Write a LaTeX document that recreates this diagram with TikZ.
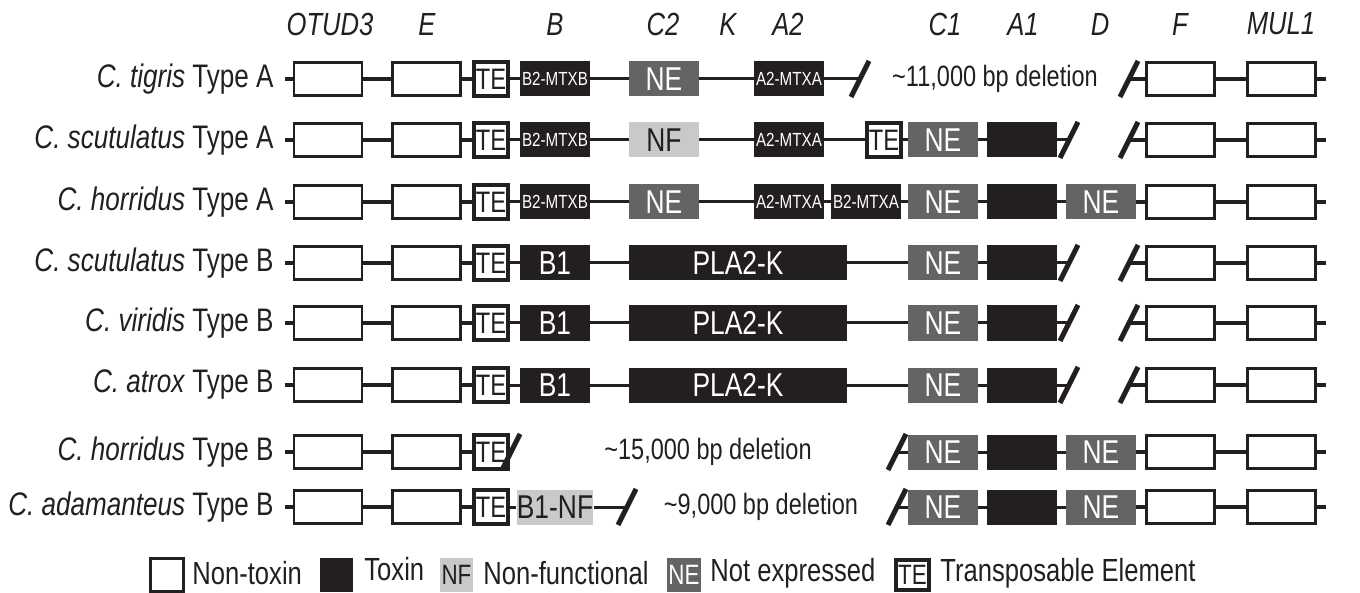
\documentclass[tikz,border=0pt]{standalone}
\usepackage{fontspec}
\setmainfont[FakeStretch=0.8]{Liberation Sans}
\definecolor{ink}{HTML}{231F20}
\definecolor{negray}{HTML}{636466}
\definecolor{nfgray}{HTML}{C8C9CB}
\tikzset{brk/.pic={\draw[line width=2.5pt, ink] (-9,18) -- (9,-18);}}

\begin{document}
\begin{tikzpicture}[x=0.5pt, y=-0.5pt,
  every node/.style={inner sep=0pt, text=ink},
  nontox/.style={rectangle, draw=ink, fill=white, line width=1.4pt, minimum width=34pt, minimum height=16.5pt},
  toxin/.style={rectangle, fill=ink, text=white, minimum width=35pt, minimum height=17.5pt, font=\fontsize{16.5}{18}\selectfont},
  smalltox/.style={toxin, font=\fontsize{9.5}{10}\selectfont},
  notexp/.style={toxin, fill=negray},
  nonfun/.style={toxin, fill=nfgray, text=ink},
  tebox/.style={rectangle, draw=ink, fill=white, line width=2pt, minimum size=17pt, font=\fontsize{14.8}{16}\selectfont},
  flank/.style={draw=ink, line width=2pt},
  link/.style={draw=ink, line width=1.5pt},
  species/.style={anchor=east, font=\fontsize{16.3}{18}\selectfont},
  gene/.style={font=\fontsize{16}{18}\selectfont\itshape},
  note/.style={font=\fontsize{14.7}{16}\selectfont},
  legtext/.style={anchor=west, font=\fontsize{16}{18}\selectfont}]
  \useasboundingbox (0,0) rectangle (1360,593);

  % Header
  \node[gene] (h-otud3) at (330,24) {OTUD3};
  \node[gene] (h-e) at (427,24) {E};
  \node[gene] (h-b) at (555,24) {B};
  \node[gene] (h-c2) at (663,24) {C2};
  \node[gene] (h-k) at (728,24) {K};
  \node[gene] (h-a2) at (788,24) {A2};
  \node[gene] (h-c1) at (945,24) {C1};
  \node[gene] (h-a1) at (1023,24) {A1};
  \node[gene] (h-d) at (1100,24) {D};
  \node[gene] (h-f) at (1180,24) {F};
  \node[gene] (h-mul1) at (1281,24) {MUL1};

  % Flanking genes, same in every row
  \foreach \r/\y/\lbl in {1/79/{\textit{C. tigris} Type A}, 2/140/{\textit{C. scutulatus} Type A},
      3/202/{\textit{C. horridus} Type A}, 4/263/{\textit{C. scutulatus} Type B},
      5/323/{\textit{C. viridis} Type B}, 6/385/{\textit{C. atrox} Type B},
      7/452/{\textit{C. horridus} Type B}, 8/507/{\textit{C. adamanteus} Type B}} {
    \node[species] (sp-\r) at (274,\y) {\lbl};
    \coordinate (s-\r) at (285,\y);
    \node[nontox] (o-\r) at (328,\y) {};
    \node[nontox] (e-\r) at (426.5,\y) {};
    \node[tebox] (te-\r) at (491,\y) {TE};
    \node[nontox] (f-\r) at (1180.5,\y) {};
    \node[nontox] (m-\r) at (1281.5,\y) {};
    \coordinate (t-\r) at (1326,\y);
    \draw[flank] (s-\r) -- (o-\r) -- (e-\r) -- (te-\r);
    \draw[flank] (f-\r) -- (m-\r) -- (t-\r);
  }

  % Row 1
  \node[smalltox] (b-1) at (555,79) {B2-MTXB};
  \node[notexp] (c2-1) at (664,79) {NE};
  \node[smalltox] (a2-1) at (789,79) {A2-MTXA};
  \coordinate (cut-1a) at (860,79);
  \node[note] (del-1) at (995,79) {\textasciitilde 11,000 bp deletion};
  \coordinate (cut-1b) at (1129,79);
  \draw[link] (te-1) -- (b-1) -- (c2-1) -- (a2-1) -- (cut-1a);
  \draw[flank] (cut-1b) -- (f-1);
  \pic at (cut-1a) {brk};
  \pic at (cut-1b) {brk};

  % Row 2
  \node[smalltox] (b-2) at (555,140) {B2-MTXB};
  \node[nonfun] (c2-2) at (664,140) {NF};
  \node[smalltox] (a2-2) at (789,140) {A2-MTXA};
  \node[tebox] (tx-2) at (884,140) {TE};
  \node[notexp] (c1-2) at (943,140) {NE};
  \node[toxin] (a1-2) at (1022,140) {};
  \coordinate (cut-2a) at (1069,140);
  \coordinate (cut-2b) at (1129,140);
  \draw[link] (te-2) -- (b-2) -- (c2-2) -- (a2-2) -- (tx-2) -- (c1-2) -- (a1-2) -- (cut-2a);
  \draw[flank] (cut-2b) -- (f-2);
  \pic at (cut-2a) {brk};
  \pic at (cut-2b) {brk};

  % Row 3
  \node[smalltox] (b-3) at (555,202) {B2-MTXB};
  \node[notexp] (c2-3) at (664,202) {NE};
  \node[smalltox] (a2-3) at (789,202) {A2-MTXA};
  \node[smalltox] (bx-3) at (866,202) {B2-MTXA};
  \node[notexp] (c1-3) at (943,202) {NE};
  \node[toxin] (a1-3) at (1022,202) {};
  \node[notexp] (d-3) at (1101,202) {NE};
  \draw[link] (te-3) -- (b-3) -- (c2-3) -- (a2-3) -- (bx-3) -- (c1-3) -- (a1-3) -- (d-3);
  \draw[flank] (d-3) -- (f-3);

  % Rows 4-6
  \foreach \r/\y in {4/263, 5/323, 6/385} {
    \node[toxin] (b-\r) at (555,\y) {B1};
    \node[toxin, minimum width=109pt] (k-\r) at (738,\y) {PLA2-K};
    \node[notexp] (c1-\r) at (943,\y) {NE};
    \node[toxin] (a1-\r) at (1022,\y) {};
    \coordinate (cut-\r a) at (1069,\y);
    \coordinate (cut-\r b) at (1129,\y);
    \draw[link] (te-\r) -- (b-\r) -- (k-\r) -- (c1-\r) -- (a1-\r) -- (cut-\r a);
    \draw[flank] (cut-\r b) -- (f-\r);
    \pic at (cut-\r a) {brk};
    \pic at (cut-\r b) {brk};
  }

  % Row 7
  \coordinate (cut-7a) at (511,452);
  \node[note] (del-7) at (708,452) {\textasciitilde 15,000 bp deletion};
  \coordinate (cut-7b) at (897,452);
  \node[notexp] (c1-7) at (943,452) {NE};
  \node[toxin] (a1-7) at (1022,452) {};
  \node[notexp] (d-7) at (1101,452) {NE};
  \draw[link] (cut-7b) -- (c1-7) -- (a1-7) -- (d-7);
  \draw[flank] (d-7) -- (f-7);
  \pic at (cut-7a) {brk};
  \pic at (cut-7b) {brk};

  % Row 8
  \node[nonfun] (b-8) at (555,507) {B1-NF};
  \coordinate (cut-8a) at (627,507);
  \node[note] (del-8) at (761,507) {\textasciitilde 9,000 bp deletion};
  \coordinate (cut-8b) at (897,507);
  \node[notexp] (c1-8) at (943,507) {NE};
  \node[toxin] (a1-8) at (1022,507) {};
  \node[notexp] (d-8) at (1101,507) {NE};
  \draw[link] (te-8) -- (b-8) -- (cut-8a);
  \draw[link] (cut-8b) -- (c1-8) -- (a1-8) -- (d-8);
  \draw[flank] (d-8) -- (f-8);
  \pic at (cut-8a) {brk};
  \pic at (cut-8b) {brk};

  % Legend
  \node[nontox, minimum width=16.5pt] (lg-nt) at (167,575) {};
  \node[legtext] (lt-nt) at (192,573) {Non-toxin};
  \node[toxin, minimum width=16.5pt, minimum height=17pt] (lg-tx) at (336.5,575) {};
  \node[legtext] (lt-tx) at (364,569) {Toxin};
  \node[nonfun, minimum width=16.5pt, minimum height=17pt, font=\fontsize{14}{16}\selectfont] (lg-nf) at (456.5,575) {NF};
  \node[legtext] (lt-nf) at (483,573) {Non-functional};
  \node[notexp, minimum width=17pt, minimum height=17pt, font=\fontsize{14}{16}\selectfont] (lg-ne) at (684,575) {NE};
  \node[legtext] (lt-ne) at (710,573) {Not expressed};
  \node[tebox, minimum width=16.5pt, minimum height=15pt, font=\fontsize{14}{16}\selectfont] (lg-te) at (912.5,575) {TE};
  \node[legtext] (lt-te) at (940,573) {Transposable Element};
\end{tikzpicture}
\end{document}
